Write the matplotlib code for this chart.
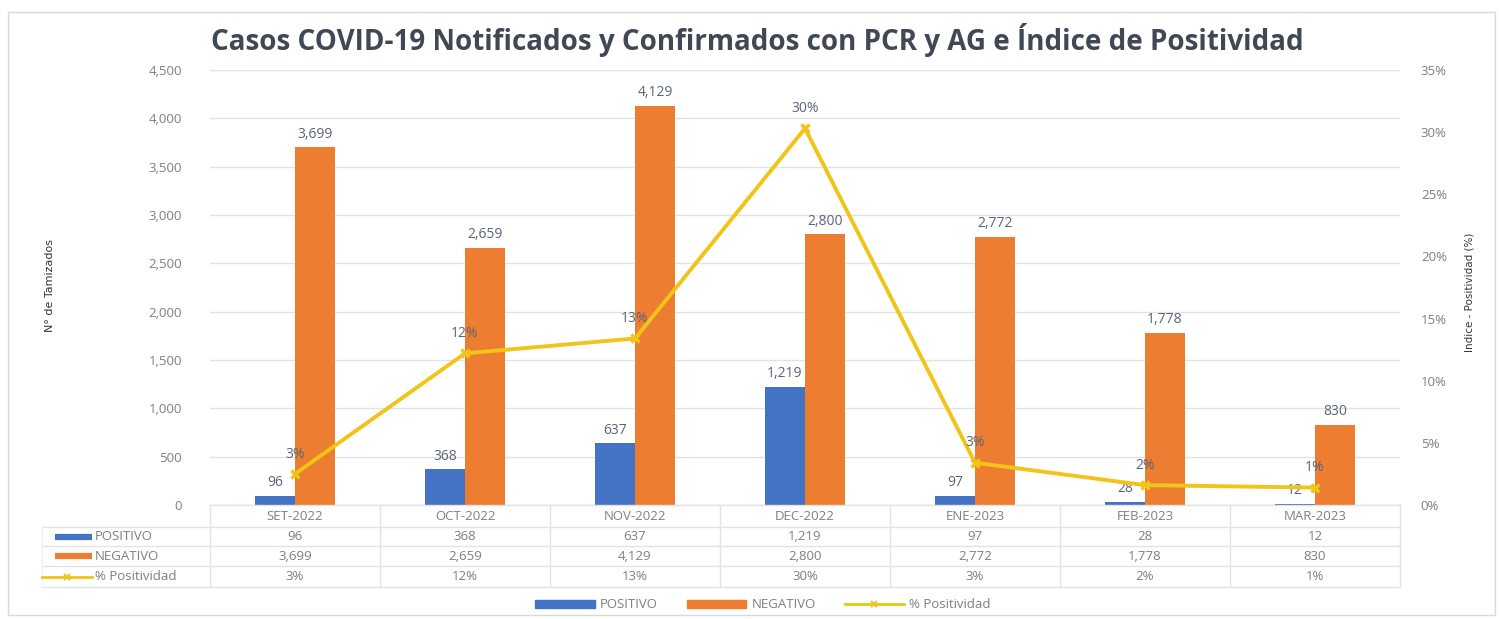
import matplotlib.pyplot as plt
import matplotlib.transforms as mtransforms
from matplotlib.lines import Line2D
from matplotlib.patches import Patch, Rectangle
import numpy as np

# datos
meses = ["SET-2022", "OCT-2022", "NOV-2022", "DEC-2022", "ENE-2023", "FEB-2023", "MAR-2023"]
positivo = [96, 368, 637, 1219, 97, 28, 12]
negativo = [3699, 2659, 4129, 2800, 2772, 1778, 830]
positividad = [2.5, 12.2, 13.4, 30.3, 3.4, 1.6, 1.4]
positividad_txt = ["3%", "12%", "13%", "30%", "3%", "2%", "1%"]

AZUL = "#4472C4"
NARANJA = "#ED7D31"
AMARILLO = "#F0C418"
GRIS_TXT = "#7F7F7F"
GRIS_LBL = "#5A6478"
GRIS_LINEA = "#E3E3E3"

plt.rcParams['font.family'] = ['Open Sans', 'DejaVu Sans']

W, H = 1499, 619
fig = plt.figure(figsize=(W / 100, H / 100), dpi=100)


def fy(px):
    """pixel y (desde arriba) -> fraccion de figura"""
    return 1 - px / H


def fx(px):
    return px / W


# marco exterior
fig.add_artist(Rectangle((fx(8), fy(615)), fx(1495) - fx(8), fy(12) - fy(615),
                         transform=fig.transFigure, fill=False,
                         edgecolor="#D9D9D9", linewidth=1))

ax = fig.add_axes([fx(210), fy(505), fx(1400) - fx(210), fy(70) - fy(505)])
ax2 = ax.twinx()

x = np.arange(len(meses))
ancho = 0.235

b1 = ax.bar(x - ancho / 2, positivo, ancho, color=AZUL, zorder=2)
b2 = ax.bar(x + ancho / 2, negativo, ancho, color=NARANJA, zorder=2)

for xi, v in zip(x, positivo):
    ax.text(xi - ancho / 2, v + 60, f"{v:,}", ha="center", va="bottom",
            fontsize=10, color=GRIS_LBL, zorder=4)
for xi, v in zip(x, negativo):
    ax.text(xi + ancho / 2, v + 60, f"{v:,}", ha="center", va="bottom",
            fontsize=10, color=GRIS_LBL, zorder=4)

ax.set_xlim(-0.5, len(meses) - 0.5)
ax.set_ylim(0, 4500)
ax.set_yticks(range(0, 4501, 500))
ax.set_yticklabels([f"{v:,}" for v in range(0, 4501, 500)])
ax.tick_params(axis="y", length=0, pad=20, labelsize=9.5, labelcolor=GRIS_TXT)
ax.set_xticks([])
ax.grid(axis="y", color=GRIS_LINEA, linewidth=1, zorder=0)
for s in ax.spines.values():
    s.set_visible(False)

# linea de positividad
ax2.plot(x, positividad, color=AMARILLO, linewidth=2.8, marker="x",
         markersize=6, markeredgewidth=2.5, zorder=5)
for xi, v, t in zip(x, positividad, positividad_txt):
    ax2.text(xi, v + 1.0, t, ha="center", va="bottom", fontsize=10,
             color=GRIS_LBL, zorder=6)
ax2.set_ylim(0, 35)
ax2.set_yticks(range(0, 36, 5))
ax2.set_yticklabels([f"{v}%" for v in range(0, 36, 5)])
ax2.tick_params(axis="y", length=0, pad=15, labelsize=9.5, labelcolor=GRIS_TXT)
for s in ax2.spines.values():
    s.set_visible(False)
ax2.set_zorder(ax.get_zorder() + 1)
ax.patch.set_visible(True)
ax2.patch.set_visible(False)

# titulos de ejes
fig.text(fx(50), fy(285), "N° de Tamizados", rotation=90, ha="center", va="center",
         fontsize=8, color="#333333", family=['Liberation Sans Narrow', 'DejaVu Sans'])
fig.text(fx(1470), fy(292), "Indice - Positividad (%)", rotation=90, ha="center",
         va="center", fontsize=7.5, color="#333333",
         family=['Liberation Sans Narrow', 'DejaVu Sans'])

fig.text(fx(757), fy(40), "Casos COVID-19 Notificados y Confirmados con PCR y AG e Índice de Positividad",
         ha="center", va="center", fontsize=20, fontweight="bold", color="#404855")

# tabla de datos
tr = mtransforms.blended_transform_factory(ax.transData, fig.transFigure)
filas_y = [505, 527, 546, 566, 587]
for yy in filas_y[1:]:
    fig.add_artist(Line2D([fx(42), fx(1400)], [fy(yy), fy(yy)], transform=fig.transFigure,
                          color=GRIS_LINEA, linewidth=1))
fig.add_artist(Line2D([fx(210), fx(1400)], [fy(505), fy(505)], transform=fig.transFigure,
                      color=GRIS_LINEA, linewidth=1))
for xb in np.arange(-0.5, len(meses), 1.0):
    ax.add_artist(Line2D([xb, xb], [fy(505), fy(587)], transform=tr,
                         color=GRIS_LINEA, linewidth=1, clip_on=False))
fig.add_artist(Line2D([fx(42), fx(42)], [fy(527), fy(587)], transform=fig.transFigure,
                      color="#F0F0F0", linewidth=1))

filas = [meses,
         [f"{v:,}" for v in positivo],
         [f"{v:,}" for v in negativo],
         positividad_txt]
for r, vals in enumerate(filas):
    yc = (filas_y[r] + filas_y[r + 1]) / 2
    for xi, t in zip(x, vals):
        ax.text(xi, fy(yc), t, transform=tr, ha="center", va="center",
                fontsize=9.5, color=GRIS_TXT, clip_on=False)

# leyenda dentro de la tabla
etiquetas = ["POSITIVO", "NEGATIVO", "% Positividad"]
for r, lab in enumerate(etiquetas):
    yc = fy((filas_y[r + 1] + filas_y[r + 2]) / 2)
    if r < 2:
        fig.add_artist(Line2D([fx(55), fx(92)], [yc, yc], transform=fig.transFigure,
                              color=[AZUL, NARANJA][r], linewidth=4.5, solid_capstyle="butt"))
    else:
        fig.add_artist(Line2D([fx(42), fx(92)], [yc, yc], transform=fig.transFigure,
                              color=AMARILLO, linewidth=2))
        fig.add_artist(Line2D([fx(67)], [yc], transform=fig.transFigure,
                              color=AMARILLO, marker="x", markersize=4, markeredgewidth=1.5))
    fig.text(fx(95), yc, lab, ha="left", va="center", fontsize=9.5, color=GRIS_TXT)

# leyenda inferior
handles = [Patch(color=AZUL), Patch(color=NARANJA),
           Line2D([], [], color=AMARILLO, linewidth=2, marker="x", markersize=5,
                  markeredgewidth=1.5)]
fig.legend(handles, etiquetas, loc="center", bbox_to_anchor=(fx(763), fy(605)),
           ncol=3, frameon=False, fontsize=9.5, labelcolor=GRIS_TXT,
           handlelength=4.5, handleheight=0.5, columnspacing=2.2, handletextpad=0.4)

fig.savefig("out.png", dpi=100)
